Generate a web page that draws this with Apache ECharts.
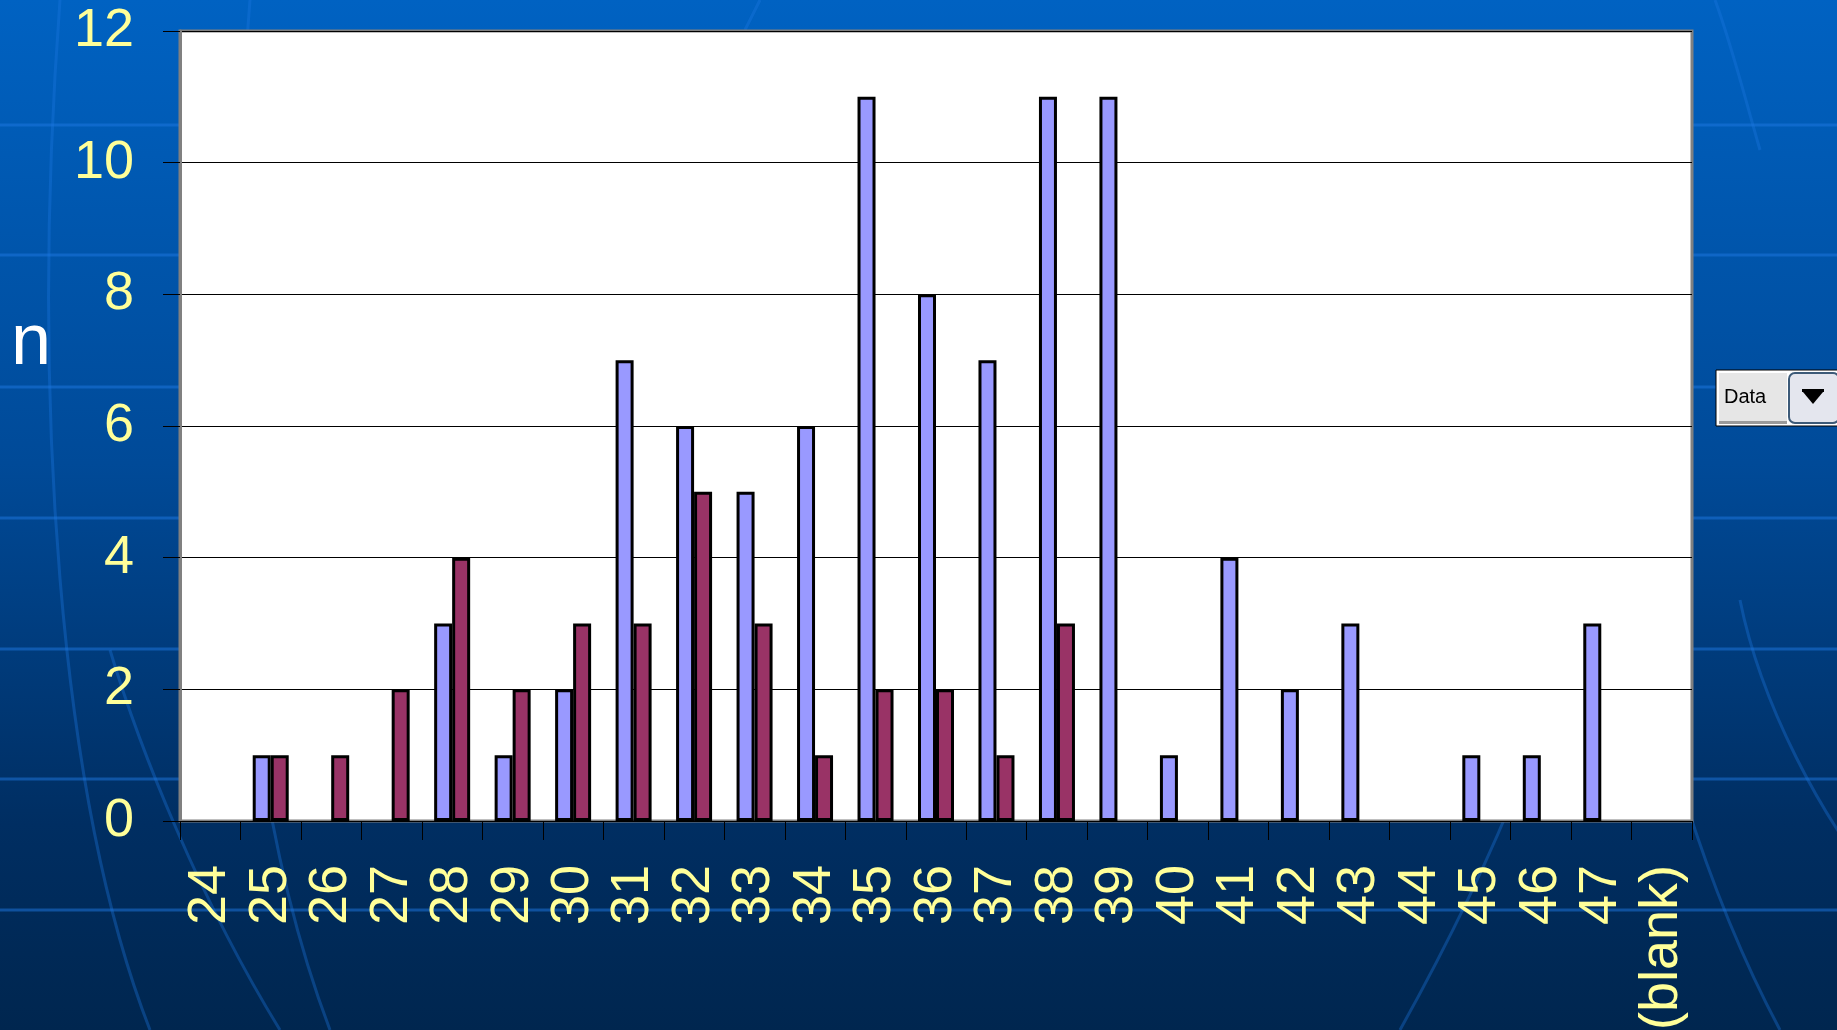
<!DOCTYPE html>
<html>
<head>
<meta charset="utf-8">
<script src="https://cdn.jsdelivr.net/npm/echarts@6/dist/echarts.min.js"></script>
<style>
html,body{margin:0;padding:0;width:1837px;height:1030px;overflow:hidden;}
#c{width:1837px;height:1030px;}
</style>
</head>
<body>
<div id="c"></div>
<script>
const categories = ['24','25','26','27','28','29','30','31','32','33','34','35','36','37','38','39','40','41','42','43','44','45','46','47','(blank)'];
const seriesA = [0,1,0,0,3,1,2,7,6,5,6,11,8,7,11,11,1,4,2,3,0,1,1,3,0];
const seriesB = [0,1,1,2,4,2,3,3,5,3,1,2,2,1,3,0,0,0,0,0,0,0,0,0,0];
const yTicks = {min:0, max:12, interval:2};

const chart = echarts.init(document.getElementById('c'), null, {renderer:'canvas'});
const toBar = arr => arr.map(v => v === 0 ? '-' : v);

const bgLines = [];
[125,255,387,518,649,779,910].forEach(y => {
  bgLines.push({type:'line', silent:true, z:-10, shape:{x1:0,y1:y,x2:1837,y2:y}, style:{stroke:'rgba(30,120,225,0.5)', lineWidth:3}});
});
const curves = [
  [[150,1030],[60,800],[30,400],[60,0]],
  [[330,1030],[250,820],[210,500],[250,0]],
  [[280,1030],[200,900],[140,750],[110,650]],
  [[1400,1030],[1500,850],[1560,700],[1600,520]],
  [[1780,1030],[1700,880],[1650,700],[1620,520]],
  [[1890,900],[1820,820],[1760,700],[1740,600]],
  [[1760,150],[1740,80],[1730,40],[1715,0]],
  [[760,0],[755,10],[750,20],[745,30]]
];
curves.forEach(p => {
  bgLines.push({type:'bezierCurve', silent:true, z:-10, shape:{x1:p[0][0],y1:p[0][1],cpx1:p[1][0],cpy1:p[1][1],cpx2:p[2][0],cpy2:p[2][1],x2:p[3][0],y2:p[3][1]}, style:{stroke:'rgba(30,120,225,0.35)', lineWidth:3, fill:null}});
});

const option = {
  animation:false,
  backgroundColor:{type:'linear', x:0, y:0, x2:0, y2:1, colorStops:[
    {offset:0, color:'#0062C2'},
    {offset:0.45, color:'#004A98'},
    {offset:0.8, color:'#002E62'},
    {offset:1, color:'#00264F'}
  ]},
  textStyle:{fontFamily:'Liberation Sans, Arial, sans-serif'},
  grid:{left:180, top:31, right:145, bottom:209, show:true, backgroundColor:'#FFFFFF', borderColor:'#808080', borderWidth:3, containLabel:false, outerBoundsMode:'none'},
  xAxis:{
    type:'category', data:categories,
    axisLine:{show:true, lineStyle:{color:'#000000', width:1}},
    axisTick:{show:true, alignWithLabel:false, length:19, lineStyle:{color:'#000000', width:1}},
    axisLabel:{rotate:90, color:'#FFFF99', fontSize:54, margin:44, interval:0, fontFamily:'Liberation Sans, Arial, sans-serif'},
    splitLine:{show:false}
  },
  yAxis:{
    type:'value', min:yTicks.min, max:yTicks.max, interval:yTicks.interval,
    axisLine:{show:true, lineStyle:{color:'#808080', width:3}},
    axisTick:{show:true, length:17, lineStyle:{color:'#000000', width:1}},
    axisLabel:{color:'#FFFF99', fontSize:54, margin:46, padding:[10,0,0,0], fontFamily:'Liberation Sans, Arial, sans-serif'},
    splitLine:{show:true, lineStyle:{color:'#000000', width:1}}
  },
  series:[
    {type:'bar', name:'A', data:toBar(seriesA), barWidth:18, barGap:'0%',
     itemStyle:{color:'#9999FF', borderColor:'#000000', borderWidth:3}},
    {type:'bar', name:'B', data:toBar(seriesB), barWidth:18, barGap:'0%',
     itemStyle:{color:'#993366', borderColor:'#000000', borderWidth:3}}
  ],
  graphic:bgLines.concat([
    {type:'text', z:10, style:{x:11, y:344, text:'n', fill:'#FFFFFF', font:'72px "Liberation Sans", Arial, sans-serif', verticalAlign:'middle', align:'left'}},
    {type:'rect', z:10, shape:{x:1716, y:370, width:125, height:56}, style:{fill:'#FFFFFF', stroke:'#000000', lineWidth:1}},
    {type:'rect', z:11, shape:{x:1719, y:373, width:68, height:50}, style:{fill:'#E6E6E6'}},
    {type:'rect', z:11, shape:{x:1719, y:421, width:68, height:3}, style:{fill:'#9A9A9A'}},
    {type:'text', z:12, style:{x:1724, y:397, text:'Data', fill:'#000000', font:'20px "Liberation Sans", Arial, sans-serif', verticalAlign:'middle', align:'left'}},
    {type:'rect', z:11, shape:{x:1789, y:373, width:50, height:50, r:6}, style:{fill:'#E4E6EE', stroke:'#3C5A78', lineWidth:2}},
    {type:'polygon', z:12, shape:{points:[[1803,392],[1823,392],[1813,404]]}, style:{fill:'#000000'}},
    {type:'rect', z:12, shape:{x:1802, y:389, width:22, height:3}, style:{fill:'#000000'}}
  ])
};
chart.setOption(option);
</script>
</body>
</html>
